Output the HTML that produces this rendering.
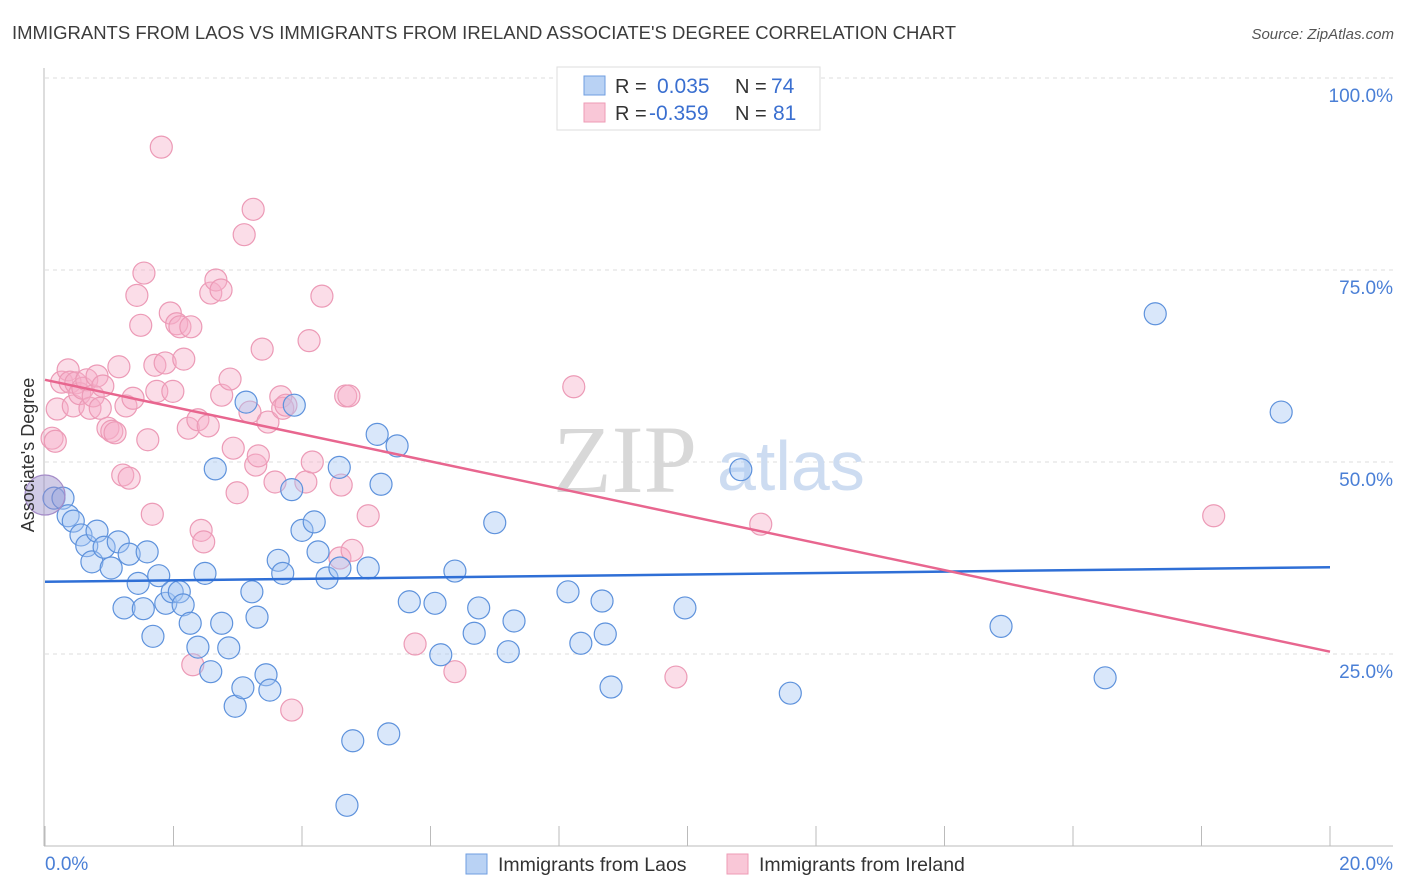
<!DOCTYPE html>
<html><head><meta charset="utf-8"><style>
body{margin:0;background:#fff;font-family:"Liberation Sans",sans-serif;}
svg{display:block}
</style></head><body>
<svg id="chart" width="1406" height="892" xmlns="http://www.w3.org/2000/svg" font-family="Liberation Sans, sans-serif">
<text x="12" y="39" font-size="18.5" fill="#3c3c3c">IMMIGRANTS FROM LAOS VS IMMIGRANTS FROM IRELAND ASSOCIATE'S DEGREE CORRELATION CHART</text>
<text x="1394" y="39" font-size="15" fill="#555" text-anchor="end" font-style="italic">Source: ZipAtlas.com</text>
<g id="grid"></g>
<text x="553" y="492" font-size="96" font-family="Liberation Serif, serif" fill="#d8d8d8">ZIP</text>
<text x="717" y="490" font-size="70" fill="#cddcf1">atlas</text>
<g id="marks"></g>
<text transform="translate(34,455) rotate(-90)" font-size="18" fill="#333" text-anchor="middle">Associate's Degree</text>
<g>
<rect x="557" y="67" width="263" height="63" fill="#fff" stroke="#ddd"/>
<rect x="584" y="76" width="21" height="19" fill="#b9d2f4" stroke="#6f9ee0"/>
<rect x="584" y="103" width="21" height="19" fill="#f9c7d7" stroke="#ee9bb6"/>
<text x="615" y="93" font-size="20" fill="#333">R = </text><text x="657" y="93" font-size="21" fill="#3a6fd0">0.035</text>
<text x="735" y="93" font-size="20" fill="#333">N = </text><text x="771" y="93" font-size="21" fill="#3a6fd0">74</text>
<text x="615" y="120" font-size="20" fill="#333">R = </text><text x="649" y="120" font-size="21" fill="#3a6fd0">-0.359</text>
<text x="735" y="120" font-size="20" fill="#333">N = </text><text x="773" y="120" font-size="21" fill="#3a6fd0">81</text>
</g>
<g><rect x="466" y="854" width="21" height="20" fill="#b9d2f4" stroke="#6f9ee0"/><text x="498" y="871" font-size="19.5" fill="#333">Immigrants from Laos</text></g>
<g><rect x="727" y="854" width="21" height="20" fill="#f9c7d7" stroke="#ee9bb6"/><text x="759" y="871" font-size="19.5" fill="#333">Immigrants from Ireland</text></g>
</svg>
<script>
const xTicksPct=[0,2,4,6,8,10,12,14,16,18,20];
const yTickVals=[25,50,75,100];
const yTickLabels=["25.0%","50.0%","75.0%","100.0%"];
const xEndLabels=["0.0%","20.0%"];
const laosX=[0.14,0.28,0.36,0.44,0.56,0.65,0.73,0.81,0.92,1.03,1.14,1.23,1.31,1.45,1.53,1.59,1.68,1.77,1.88,1.98,2.09,2.15,2.26,2.38,2.49,2.58,2.65,2.75,2.86,2.96,3.08,3.13,3.22,3.30,3.44,3.50,3.63,3.70,3.84,3.88,4.00,4.19,4.25,4.39,4.58,4.59,4.70,4.79,5.03,5.17,5.23,5.35,5.48,5.67,6.07,6.16,6.38,6.68,6.75,7.00,7.21,7.30,8.14,8.34,8.67,8.72,8.81,9.96,10.83,11.60,14.88,16.50,17.28,19.24];
const laosY=[45.3,45.3,43.0,42.3,40.5,39.1,37.0,41.0,38.9,36.2,39.6,31.0,38.0,34.2,30.9,38.3,27.3,35.2,31.6,33.1,33.1,31.4,29.0,25.9,35.5,22.7,49.1,29.0,25.8,18.2,20.6,57.8,33.1,29.8,22.3,20.3,37.2,35.5,46.4,57.4,41.1,42.2,38.3,34.9,49.3,36.2,5.3,13.7,36.2,53.6,47.1,14.6,52.1,31.8,31.6,24.9,35.8,27.7,31.0,42.1,25.3,29.3,33.1,26.4,31.9,27.6,20.7,31.0,49.0,19.9,28.6,21.9,69.3,56.5];
const irelandX=[0.11,0.16,0.19,0.26,0.36,0.39,0.44,0.48,0.54,0.59,0.65,0.70,0.75,0.81,0.86,0.90,0.98,1.04,1.09,1.15,1.21,1.26,1.31,1.37,1.43,1.49,1.54,1.60,1.67,1.71,1.74,1.81,1.87,1.95,1.99,2.05,2.10,2.16,2.23,2.27,2.30,2.38,2.43,2.47,2.54,2.58,2.66,2.74,2.75,2.88,2.93,2.99,3.10,3.19,3.24,3.28,3.32,3.38,3.47,3.58,3.67,3.70,3.75,3.84,4.06,4.11,4.16,4.31,4.59,4.61,4.68,4.73,4.78,5.03,5.76,6.38,8.23,9.82,11.14,18.19];
const irelandY=[53.1,52.7,56.9,60.4,62.0,60.4,57.3,60.3,58.9,59.6,60.7,57.0,58.6,61.2,57.0,59.9,54.4,54.0,53.8,62.4,48.3,57.3,47.9,58.3,71.7,67.8,74.6,52.9,43.2,62.6,59.2,91.0,62.9,69.4,59.2,68.0,67.6,63.4,54.4,67.6,23.6,55.5,41.1,39.6,54.7,72.0,73.7,72.4,58.7,60.8,51.8,46.0,79.6,56.5,82.9,49.6,50.8,64.7,55.2,47.4,58.5,57.0,57.4,17.7,47.4,65.8,50.0,71.6,37.5,47.0,58.6,58.6,38.5,43.0,26.3,22.7,59.8,22.0,41.9,43.0];
const bigX=[0.0];
const bigY=[45.7];
const laosTrend=[34.4,36.3];
const irelandTrend=[60.7,25.3];

const NS="http://www.w3.org/2000/svg";
const X0=45,X1=1330,Y0=846,Y100=78;
function sx(v){return X0+(v/20)*(X1-X0);}
function sy(v){return Y0-(v/100)*(Y0-Y100);}
function el(tag,attrs,parent){const e=document.createElementNS(NS,tag);for(const k in attrs)e.setAttribute(k,attrs[k]);parent.appendChild(e);return e;}
const grid=document.getElementById('grid');
const marks=document.getElementById('marks');
const svg=document.getElementById('chart');
let g=el('line',{x1:45,y1:78,x2:1393,y2:78,stroke:'#ddd','stroke-dasharray':'4,4'},grid);


yTickVals.forEach((v,i)=>{
  const l=el('line',{x1:45,y1:sy(v),x2:1393,y2:sy(v),stroke:'#ddd','stroke-dasharray':'4,4'},grid);
  
  
  const t=el('text',{x:1393,y:sy(v)+24,'font-size':19,fill:'#4a7fd6','text-anchor':'end'},svg);
  t.textContent=yTickLabels[i];
  
  
});
let ax=el('line',{x1:44,y1:68,x2:44,y2:846,stroke:'#bbb'},grid);


let bx=el('line',{x1:44,y1:846,x2:1393,y2:846,stroke:'#bbb'},grid);


xTicksPct.forEach(v=>{
  const t=el('line',{x1:sx(v),y1:826,x2:sx(v),y2:846,stroke:'#bbb'},grid);
  
  
});
let xl=el('text',{x:45,y:870,'font-size':19,fill:'#4a7fd6'},svg);xl.textContent=xEndLabels[0];


let xr=el('text',{x:1393,y:870,'font-size':19,fill:'#4a7fd6','text-anchor':'end'},svg);xr.textContent=xEndLabels[1];


irelandX.forEach((x,i)=>{
  const c=el('circle',{cx:sx(x),cy:sy(irelandY[i]),r:11,fill:'rgba(246,175,199,0.42)',stroke:'#ec9ab6','stroke-width':1.2},marks);
  
  
});
laosX.forEach((x,i)=>{
  const c=el('circle',{cx:sx(x),cy:sy(laosY[i]),r:11,fill:'rgba(164,198,242,0.42)',stroke:'#5e92dc','stroke-width':1.2},marks);
  
  
});
bigX.forEach((x,i)=>{
  const c=el('circle',{cx:sx(x),cy:sy(bigY[i]),r:20,fill:'rgba(150,140,200,0.45)',stroke:'#a58cc8','stroke-width':1.2},marks);
  
  
});
let lt=el('line',{x1:sx(0),y1:sy(laosTrend[0]),x2:sx(20),y2:sy(laosTrend[1]),stroke:'#2f6fd6','stroke-width':2.5},marks);


let it=el('line',{x1:sx(0),y1:sy(irelandTrend[0]),x2:sx(20),y2:sy(irelandTrend[1]),stroke:'#e8668f','stroke-width':2.5},marks);


</script>
</body></html>
